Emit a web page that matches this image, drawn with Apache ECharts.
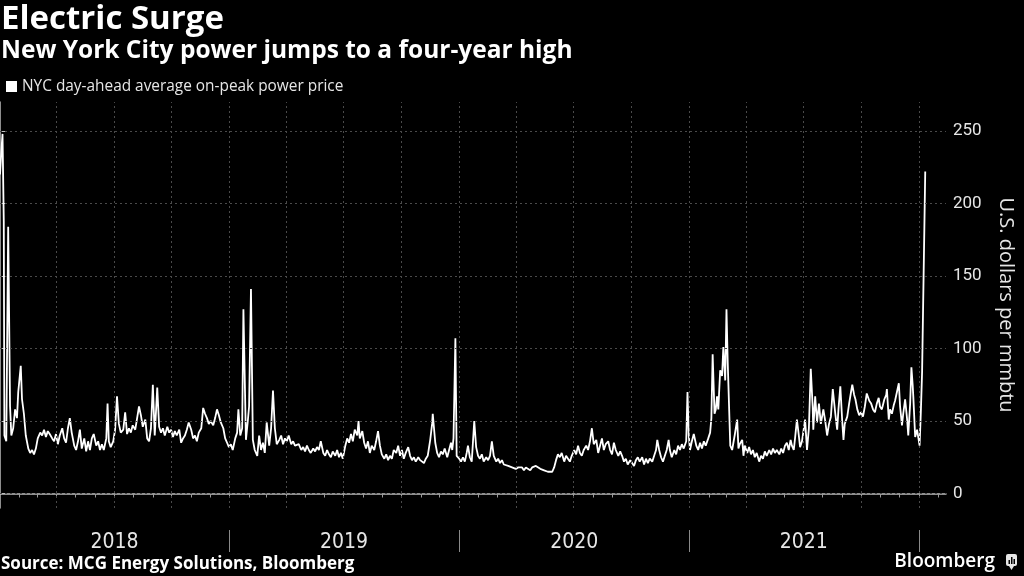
<!DOCTYPE html>
<html>
<head>
<meta charset="utf-8">
<title>Electric Surge</title>
<script src="https://cdn.jsdelivr.net/npm/echarts@6.0.0/dist/echarts.min.js"></script>
<style>
  html, body { margin: 0; padding: 0; background: #000; }
  #chart { width: 1024px; height: 576px; }
</style>
</head>
<body>
<div id="chart"></div>
<script>
// [days since 2018-01-01, $ price]
const nyc2018 = [[0,220],[2,235],[4,248],[6,188],[7,40],[10,36],[13,184],[16,60],[18,40],[21,45],[24,58],[27,52],[29,70],[33,88],[35,65],[38,55],[41,40],[45,31],[48,28],[51,30],[54,27],[57,31],[60,38],[64,42],[67,40],[70,44],[73,39],[76,43],[79,41],[83,38],[86,36],[89,41],[92,34],[95,40],[99,45],[102,38],[105,35],[108,45],[111,52],[114,42],[118,33],[121,30],[124,36],[127,44],[130,31],[134,38],[137,29],[140,36],[143,30],[146,38],[149,41],[153,33],[156,36],[159,30],[162,34],[165,30],[169,38],[171,62],[173,36],[176,32],[180,36],[183,44],[186,67],[189,48],[192,42],[196,44],[199,56],[202,41],[205,45],[208,42],[211,47],[215,44],[218,52],[221,60],[224,54],[227,46],[231,51],[234,38],[237,36],[240,45],[243,75],[246,40],[250,73],[253,46],[256,42],[259,45],[262,40],[266,46],[269,42],[272,44],[275,39],[278,43],[281,40],[285,44],[288,35],[291,38],[294,40],[297,44],[300,49],[304,44],[307,38],[310,40],[313,36],[316,42],[320,45],[323,59],[326,55],[329,52],[332,48],[335,50],[339,47],[342,52],[345,58],[348,54],[351,49],[355,45],[358,38],[361,35],[364,32]];

const nyc2019 = [[367,34],[370,30],[374,38],[377,42],[379,58],[382,40],[385,45],[387,127],[391,37],[394,50],[396,60],[399,141],[402,37],[405,30],[409,26],[412,40],[415,30],[418,35],[421,28],[424,49],[428,33],[431,45],[434,71],[437,45],[440,34],[444,37],[447,40],[450,34],[453,38],[456,36],[459,40],[463,34],[466,36],[469,33],[472,32],[475,34],[479,30],[482,32],[485,29],[488,33],[491,30],[494,28],[498,31],[501,29],[504,32],[507,30],[510,36],[514,28],[517,26],[520,30],[523,27],[526,25],[529,29],[533,26],[536,30],[539,25],[542,28],[545,24],[549,33],[552,38],[555,35],[558,41],[561,36],[564,44],[568,40],[570,50],[572,38],[576,43],[579,35],[582,31],[585,36],[588,28],[591,33],[595,30],[598,36],[601,43],[604,33],[607,27],[611,24],[614,27],[617,23],[620,26],[623,24],[626,30],[630,28],[633,33],[636,26],[639,30],[642,24],[645,28],[649,32],[652,26],[655,23],[658,25],[661,22],[665,25],[668,23],[671,24],[674,21],[677,24],[680,26],[684,37],[687,48],[688,55],[692,35],[695,28],[698,25],[701,29],[704,27],[707,31],[711,25],[714,30],[717,35],[719,30],[721,38],[724,107],[726,26],[730,24]];

const nyc2020 = [[733,22],[736,25],[739,22],[742,28],[744,33],[747,25],[750,22],[754,50],[757,32],[760,26],[763,24],[766,27],[769,22],[773,25],[776,23],[779,26],[782,36],[785,26],[789,22],[792,24],[795,21],[798,23],[801,20],[804,21],[808,19],[811,20],[814,18],[817,19],[820,17],[824,18],[827,17],[830,18],[833,16],[836,18],[839,17],[843,16],[846,18],[849,17],[852,19],[855,20],[859,17],[862,18],[865,16],[868,17],[871,15],[874,16],[878,15],[881,18],[884,23],[887,27],[890,25],[893,28],[897,22],[900,26],[903,24],[906,22],[909,26],[913,30],[916,27],[919,33],[922,28],[925,26],[928,30],[932,33],[935,30],[938,36],[941,45],[944,34],[948,37],[951,28],[954,33],[957,38],[960,30],[963,34],[967,36],[970,30],[973,27],[976,35],[979,30],[983,26],[986,29],[989,26],[992,22],[995,24],[998,20],[1002,23],[1005,21],[1008,19],[1011,23],[1014,25],[1017,22],[1021,25],[1024,20],[1027,24],[1030,21],[1033,24],[1037,22],[1040,26],[1043,30],[1045,37],[1048,30],[1051,25],[1054,22],[1057,26],[1060,30],[1063,37],[1065,30],[1068,25],[1072,30],[1075,27],[1078,33],[1081,30],[1084,34],[1087,31],[1091,36],[1093,70],[1095,40]];

const nyc2021 = [[1097,30],[1100,36],[1103,41],[1107,33],[1110,30],[1113,35],[1116,31],[1119,36],[1122,33],[1126,38],[1129,42],[1131,52],[1133,96],[1136,55],[1138,58],[1140,67],[1142,58],[1145,85],[1148,81],[1150,101],[1153,78],[1155,127],[1157,90],[1161,33],[1164,30],[1166,35],[1168,40],[1172,51],[1174,31],[1176,34],[1180,37],[1182,26],[1184,33],[1188,28],[1191,32],[1194,27],[1197,30],[1200,25],[1203,28],[1207,22],[1210,26],[1213,24],[1216,29],[1219,26],[1223,30],[1226,27],[1229,31],[1232,28],[1235,30],[1239,27],[1242,31],[1245,28],[1248,33],[1251,35],[1254,30],[1257,37],[1259,33],[1262,30],[1264,38],[1267,51],[1270,40],[1272,32],[1275,36],[1277,42],[1280,51],[1283,30],[1286,45],[1289,86],[1292,60],[1293,44],[1296,67],[1299,49],[1302,62],[1305,48],[1309,58],[1312,50],[1315,40],[1318,48],[1321,53],[1324,72],[1328,55],[1331,44],[1333,58],[1336,74],[1339,50],[1341,37],[1343,48],[1347,53],[1350,62],[1353,70],[1355,75],[1358,68],[1360,65],[1363,58],[1366,54],[1369,56],[1372,53],[1375,60],[1378,69],[1382,64],[1385,62],[1388,58],[1391,56],[1394,62],[1397,66],[1399,60],[1402,58],[1406,65],[1409,68],[1410,72],[1413,51],[1415,58],[1418,55],[1421,61],[1423,64],[1426,70],[1429,76],[1431,60],[1434,47],[1436,55],[1439,65],[1442,52],[1444,40],[1447,62],[1449,87],[1451,75],[1452,67],[1455,39],[1458,44]];

const nyc2022 = [[1462,33],[1464,56],[1466,84],[1471,222]];

const yearLabels = ['2018', '2019', '2020', '2021'];
const priceTicks = [0, 50, 100, 150, 200, 250];

const DAY = 86400000;
const START = Date.UTC(2018, 0, 1);
const END_DAY = 1504; // axis runs to mid-Feb 2022

const seriesData = [].concat(nyc2018, nyc2019, nyc2020, nyc2021, nyc2022);

function dayOf(y, m, d) { return Math.round((Date.UTC(y, m, d) - START) / DAY); }

// calendar positions for ticks and grid, in days
var monthTicks = [], quarterLines = [], yearBounds = [], yearMids = [];
for (var y = 2018; y <= 2022; y++) {
  for (var m = 0; m < 12; m++) {
    var t = dayOf(y, m, 1);
    if (t <= 0 || t > END_DAY) continue;
    monthTicks.push(t);
    if (m % 3 === 0) quarterLines.push({ xAxis: t });
  }
  if (y > 2018) yearBounds.push(dayOf(y, 0, 1));
}
yearLabels.forEach(function (lab) { yearMids.push(dayOf(+lab, 6, 2)); });

var chart = echarts.init(document.getElementById('chart'), null, { renderer: 'canvas' });

var font = '"Open Sans", Roboto, sans-serif';
var gridStyle = { color: '#4a4a4a', type: [2, 3], width: 1 };

var option = {
  backgroundColor: '#000',
  animation: false,
  title: [{
    text: 'Electric Surge',
    left: 1, top: 3, padding: 0,
    textStyle: { color: '#fff', fontSize: 33, fontWeight: 'bold', fontFamily: font }
  }, {
    text: 'New York City power jumps to a four-year high',
    left: 1, top: 39, padding: 0,
    textStyle: { color: '#fff', fontSize: 24.5, fontWeight: 'bold', fontFamily: font }
  }, {
    text: 'Source: MCG Energy Solutions, Bloomberg',
    left: 1, top: 556, padding: 0,
    textStyle: { color: '#fff', fontSize: 17, fontWeight: 'bold', fontFamily: font }
  }, {
    text: 'Bloomberg',
    right: 29, top: 552, padding: 0,
    textStyle: { color: '#fff', fontSize: 19, fontWeight: 600, fontFamily: font }
  }],
  legend: {
    data: ['NYC day-ahead average on-peak power price'],
    left: 6, top: 79, padding: 0,
    icon: 'rect', itemWidth: 11, itemHeight: 11, itemGap: 3,
    textStyle: { color: '#e6e6e6', fontSize: 15.4, fontFamily: font }
  },
  graphic: [{
    type: 'group', left: 1006, top: 554,
    children: [
      { type: 'rect', shape: { x: 0, y: 0, width: 11, height: 12, r: 2 }, style: { fill: '#e6e6e6' } },
      { type: 'polygon', shape: { points: [[3, 12], [8, 12], [5.5, 16]] }, style: { fill: '#e6e6e6' } },
      { type: 'rect', shape: { x: 2.5, y: 6, width: 1.5, height: 4 }, style: { fill: '#000' } },
      { type: 'rect', shape: { x: 5, y: 3, width: 1.5, height: 7 }, style: { fill: '#000' } },
      { type: 'rect', shape: { x: 7.5, y: 5, width: 1.5, height: 5 }, style: { fill: '#000' } }
    ]
  }],
  grid: {
    left: 0, right: 78, top: 102, bottom: 68,
    containLabel: false, outerBoundsMode: 'none'
  },
  xAxis: [{
    type: 'value', min: 0, max: END_DAY,
    axisLine: { show: true, lineStyle: { color: '#bdbdbd', width: 1.5 } },
    axisTick: { show: true, customValues: monthTicks, length: 4, lineStyle: { color: '#9a9a9a' } },
    axisLabel: { show: false },
    splitLine: { show: false }
  }, {
    type: 'value', min: 0, max: END_DAY, position: 'bottom', offset: 22,
    axisLine: { show: false },
    axisTick: { show: true, customValues: yearBounds, length: 22, lineStyle: { color: '#8a8a8a' } },
    axisLabel: {
      show: true, customValues: yearMids, margin: 2,
      color: '#e6e6e6', fontSize: 21, fontFamily: '"Liberation Sans Narrow", "DejaVu Sans Condensed", sans-serif',
      formatter: function (v) { return yearLabels[yearMids.indexOf(v)] || ''; }
    },
    splitLine: { show: false }
  }],
  yAxis: {
    type: 'value', position: 'right', min: -10, max: 270,
    name: 'U.S. dollars per mmbtu', nameLocation: 'middle', nameGap: 50, nameRotate: -90,
    nameTextStyle: { color: '#e6e6e6', fontSize: 20, fontFamily: font },
    axisLine: { show: true, lineStyle: { color: '#bdbdbd', width: 1.5 } },
    axisTick: { show: true, customValues: priceTicks, length: 5, lineStyle: { color: '#bdbdbd' } },
    axisLabel: { customValues: priceTicks, margin: 7, color: '#e6e6e6', fontSize: 17, fontFamily: 'Roboto, sans-serif' },
    splitLine: { show: false }
  },
  series: [{
    type: 'line', name: 'grid', data: [], silent: true, z: 1,
    markLine: {
      silent: true, symbol: 'none', animation: false,
      label: { show: false },
      lineStyle: gridStyle,
      emphasis: { disabled: true },
      data: priceTicks.map(function (v) { return { yAxis: v }; }).concat(quarterLines)
    }
  }, {
    type: 'line', name: 'NYC day-ahead average on-peak power price',
    data: seriesData, showSymbol: false, z: 3,
    color: '#ffffff',
    lineStyle: { color: '#ffffff', width: 1.8 }
  }]
};

chart.setOption(option);
</script>
</body>
</html>
